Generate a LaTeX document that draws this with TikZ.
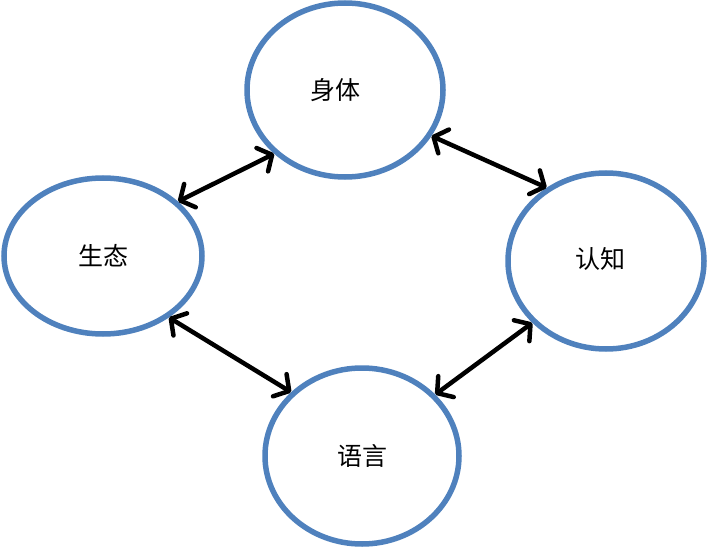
\documentclass[tikz,border=0pt]{standalone}
\usepackage{fontspec}
\newfontfamily\cjk{Noto Sans CJK SC}
\usetikzlibrary{shapes.geometric,arrows.meta}
\definecolor{ringblue}{HTML}{4F81BD}
\begin{document}
\begin{tikzpicture}[x=1pt,y=-1pt,
  ring/.style={ellipse,draw=ringblue,line width=5.5pt,inner sep=0pt,font=\cjk\fontsize{25}{25}\selectfont},
  link/.style={line width=4.5pt,{Straight Barb[round,length=11pt,width=26pt]}-{Straight Barb[round,length=11pt,width=26pt]}}]
\useasboundingbox (0,0) rectangle (709,548);
\node[ring,minimum width=196pt,minimum height=174pt] (body) at (345,90) {\hspace*{-20pt}身体};
\node[ring,minimum width=198pt,minimum height=156pt] (eco) at (103,256) {生态};
\node[ring,minimum width=196pt,minimum height=176pt] (cog) at (606,261) {\hspace*{-12pt}\raisebox{7pt}{认知}};
\node[ring,minimum width=194pt,minimum height=176pt] (lang) at (362,456) {语言};
\draw[link] (eco.36.7) -- (body.222.4);
\draw[link] (body.332.7) -- (cog.129.5);
\draw[link] (eco.-43.3) -- (lang.138);
\draw[link] (lang.40) -- (cog.220.3);
\end{tikzpicture}
\end{document}
